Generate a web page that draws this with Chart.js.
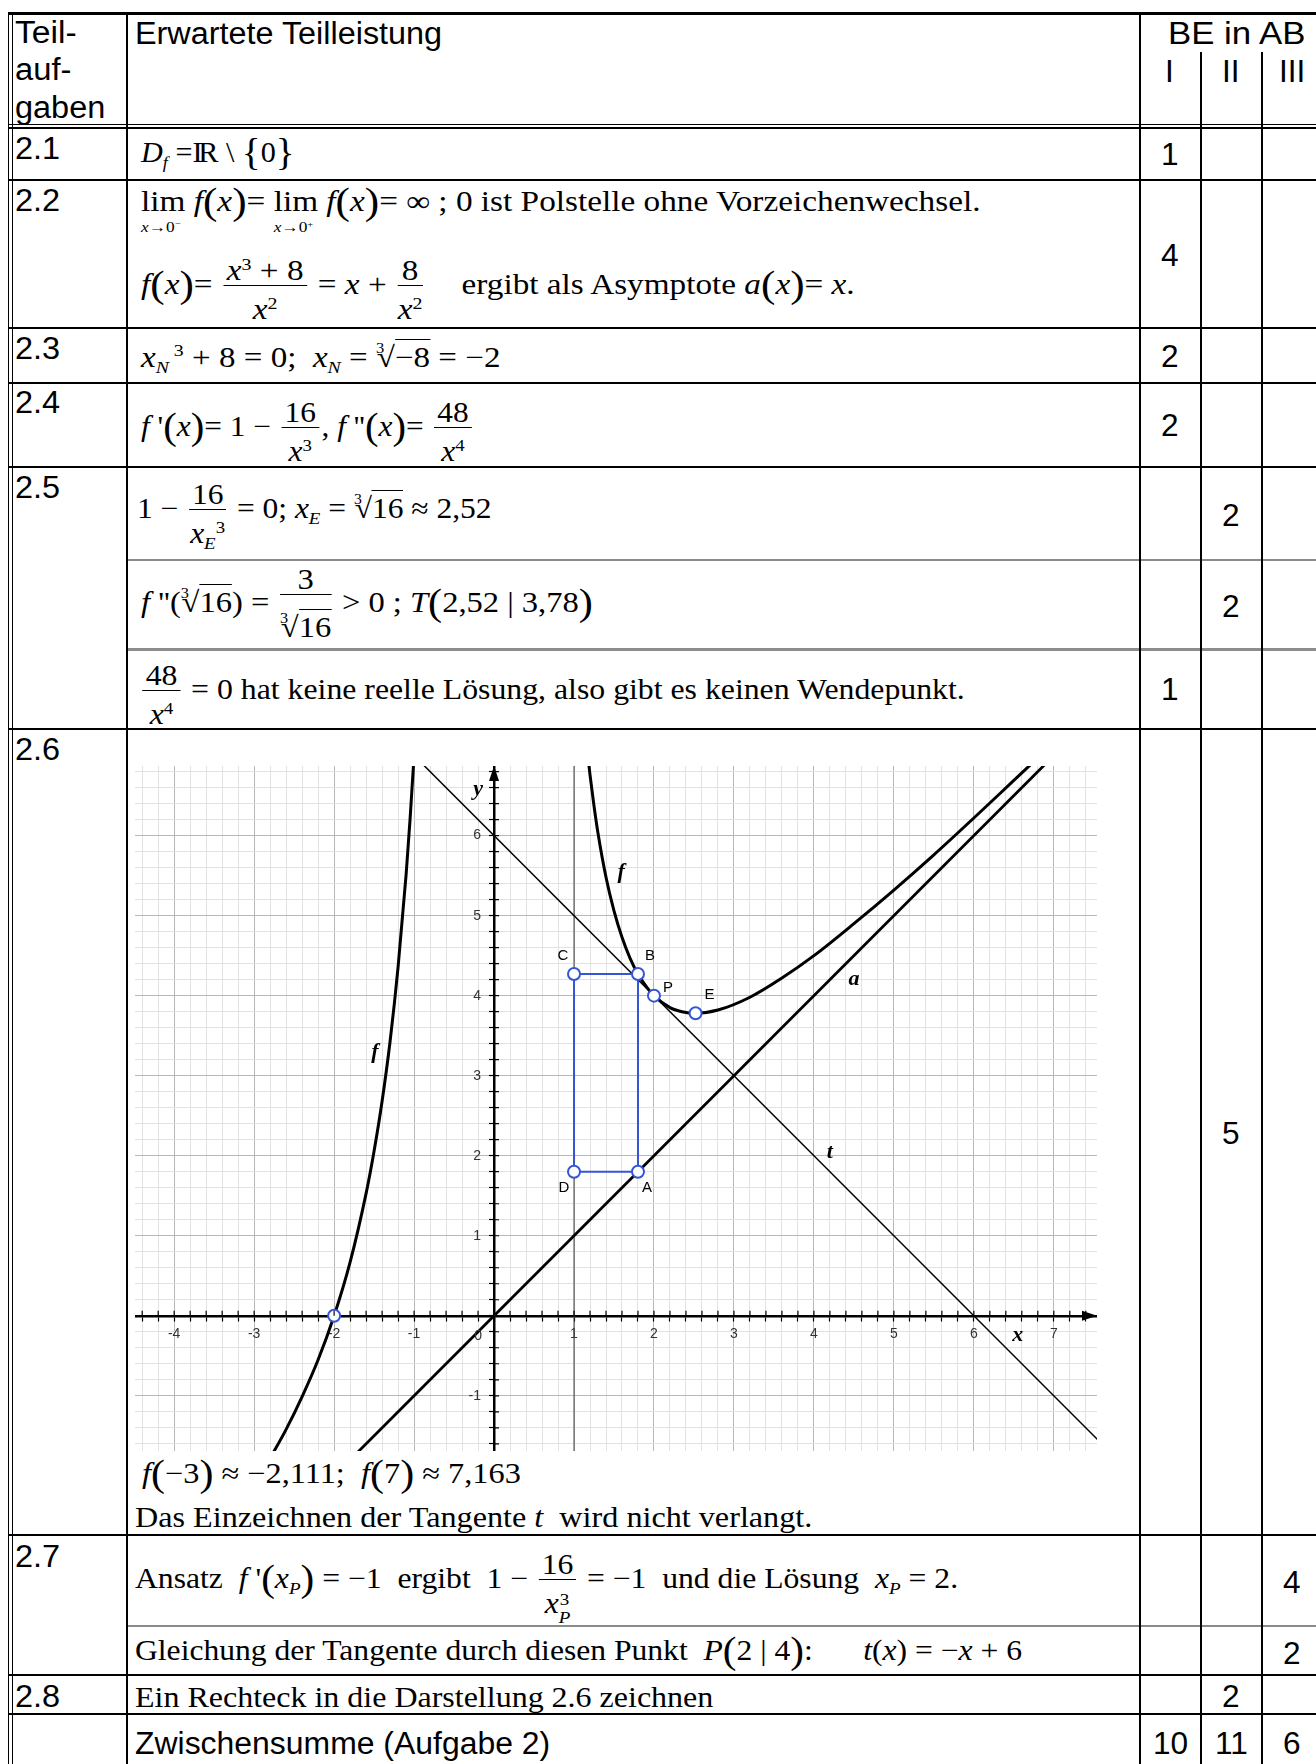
<!DOCTYPE html>
<html lang="de">
<head>
<meta charset="UTF-8">
<title>Erwartete Teilleistung - Aufgabe 2</title>
<script src="https://cdn.jsdelivr.net/npm/chart.js"></script>
<style>
  html, body { margin: 0; padding: 0; background: #fff; }
  #page { position: relative; width: 1316px; height: 1764px; overflow: hidden; }
  .ln { position: absolute; }
  .tx { position: absolute; white-space: nowrap; line-height: 1; transform-origin: 0 0; color: #000; }
  .serif { font-family: "Liberation Serif", "Times New Roman", serif; font-size: 29px; }
  .sans { font-family: "Liberation Sans", Arial, sans-serif; font-size: 31px; }
  sup, sub { font-size: .6em; line-height: 0; }
  sup { vertical-align: .6em; }
  sub { vertical-align: -.35em; }
  .fr { display: inline-block; vertical-align: -.86em; text-align: center; margin: 0 .08em; }
  .fr > .n { display: block; line-height: .9em; padding: 0 .1em 2px; border-bottom: 1.4px solid #000; }
  .fr > .d { display: block; line-height: 1.62em; }
  .bp { font-size: 1.3em; vertical-align: -.07em; }
  .lim { display: inline-block; position: relative; }
  .lim > .ls { position: absolute; left: 0; top: 2.15em; font-size: .52em; }
  .ri { font-size: .5em; vertical-align: .95em; margin-right: -.45em; }
  .ov { border-top: 1.4px solid #000; padding-top: 1px; }
  .ss { display: inline-block; vertical-align: -.55em; font-size: .6em; line-height: 1; }
  .ss > span { display: block; }
  #chartBox { position: absolute; left: 135px; top: 766px; width: 962px; height: 685px; }
</style>
</head>
<body>
<div id="page">
  <div id="chartBox"><canvas id="graph"></canvas></div>
</div>

<script type="text/javascript">
    // --- graph data ---
    const fLeftX = [-2.8, -2.6, -2.4, -2.2, -2.0, -1.8, -1.6, -1.5, -1.4, -1.3, -1.2, -1.1, -1.05, -1.0, -0.97];
    const fLeftY = [-1.78, -1.42, -1.01, -0.55, 0.0, 0.67, 1.53, 2.06, 2.68, 3.43, 4.36, 5.51, 6.21, 7.0, 7.53];
    const fRightX = [1.1, 1.15, 1.2, 1.25, 1.3, 1.4, 1.5, 1.6, 1.7, 1.8, 1.9, 2.0, 2.2, 2.35, 2.52, 2.8, 3.2, 3.6, 4.0, 4.5, 5.0, 5.5, 6.0, 6.5, 7.0];
    const fRightY = [7.71, 7.2, 6.76, 6.37, 6.03, 5.48, 5.06, 4.73, 4.47, 4.27, 4.12, 4.0, 3.85, 3.8, 3.78, 3.82, 3.98, 4.22, 4.5, 4.9, 5.32, 5.76, 6.22, 6.69, 7.16];
    const asymX = [-2, 7.6];
    const asymY = [-2, 7.6];
    const tangX = [-1, 7.6];
    const tangY = [7, -1.6];
    const vertX = [1, 1];
    const vertY = [-1.7, 6.9];
    const rectX = [1.8, 1.8, 1, 1, 1.8];
    const rectY = [1.8, 4.27, 4.27, 1.8, 1.8];
    const markX = [1.8, 1.8, 1, 1, 2, 2.52, -2];
    const markY = [1.8, 4.27, 4.27, 1.8, 4, 3.78, 0];
    const markNames = ['A', 'B', 'C', 'D', 'P', 'E', ''];
    const curveNames = ['f', 'f', 'a', 't', 'y', 'x'];
    const curveNameX = [1.59, -1.49, 4.5, 4.2, -0.2, 6.55];
    const curveNameY = [5.54, 3.29, 4.2, 2.04, 6.58, -0.24];

    // --- table content ---
    const rowLabels = ['2.1', '2.2', '2.3', '2.4', '2.5', '2.6', '2.7', '2.8'];
    const beColumns = ['I', 'II', 'III'];
    const sums = ['10', '11', '6'];

    const page = document.getElementById('page');
    const BLUE = '#3555d6';

    function hline(x1, x2, y, h, c) {
        const d = document.createElement('div');
        d.className = 'ln';
        d.style.cssText = `left:${x1}px;top:${y - h / 2}px;width:${x2 - x1}px;height:${h}px;background:${c || '#000'}`;
        page.appendChild(d);
    }
    function vline(x, y1, y2, w, c) {
        const d = document.createElement('div');
        d.className = 'ln';
        d.style.cssText = `left:${x - w / 2}px;top:${y1}px;width:${w}px;height:${y2 - y1}px;background:${c || '#000'}`;
        page.appendChild(d);
    }
    // text placed by its baseline; width w stretches it like the scan
    function put(cls, html, x, base, w, center) {
        const el = document.createElement('div');
        el.className = 'tx ' + cls;
        el.innerHTML = '<span style="display:inline-block;width:0;height:0"></span>' + html;
        page.appendChild(el);
        const nat = el.offsetWidth;
        const sx = w ? w / nat : 1.02;
        el.style.top = (base - el.firstChild.offsetTop) + 'px';
        el.style.left = (center ? x - nat * sx / 2 : x) + 'px';
        el.style.transform = 'scaleX(' + sx + ')';
    }
    const frac = (n, d) => `<span class="fr"><span class="n">${n}</span><span class="d">${d}</span></span>`;
    const root = (i, r) => `<span class="ri">${i}</span>√<span class="ov">${r}</span>`;
    const P = s => `<span class="bp">(</span>${s}<span class="bp">)</span>`;
    const lim = s => `<span class="lim">lim<span class="ls">${s}</span></span>`;

    // --- grid lines of the table ---
    hline(8, 1316, 13, 3);
    hline(8, 1316, 124.5, 1.3);
    hline(8, 1316, 128, 1.3);
    [180, 328, 383, 467, 729, 1535, 1675, 1714].forEach(y => hline(8, 1316, y, 2));
    hline(127, 1316, 560, 1.6, '#8a8a8a');
    hline(127, 1316, 649, 3, '#8d8d8d');
    hline(127, 1316, 1626, 1.6, '#8a8a8a');
    vline(8.5, 12, 1764, 1.5);
    vline(12.5, 12, 1764, 1.5);
    vline(127, 12, 1764, 2);
    vline(1140, 12, 1764, 2);
    vline(1201, 52, 1764, 2);
    vline(1262, 52, 1764, 2);

    // --- header ---
    put('sans', 'Teil-', 15, 43, 62);
    put('sans', 'auf-', 15, 80, 56);
    put('sans', 'gaben', 15, 118, 90);
    put('sans', 'Erwartete Teilleistung', 135, 44, 307);
    put('sans', 'BE in AB', 1168, 44, 137);
    const colCenter = [1170, 1231, 1292];
    beColumns.forEach((t, i) => put('sans', t, colCenter[i], 82, null, true));

    // --- row labels ---
    const labelBase = [159, 211, 359, 413, 498, 760, 1567, 1707];
    rowLabels.forEach((t, i) => put('sans', t, 15, labelBase[i], 45));

    // --- BE points ---
    const beText = ['1', '4', '2', '2', '2', '2', '1', '5', '4', '2', '2'];
    const beCol  = [0, 0, 0, 0, 1, 1, 0, 1, 2, 2, 1];
    const beBase = [165, 266, 367, 436, 526, 617, 700, 1144, 1593, 1664, 1707];
    beText.forEach((t, i) => put('sans', t, colCenter[beCol[i]], beBase[i], null, true));
    sums.forEach((t, i) => put('sans', t, colCenter[i], 1754, null, true));
    put('sans', 'Zwischensumme (Aufgabe 2)', 135, 1754, 415);

    // --- formulas ---
    const xs3 = `<i>x</i><sup>3</sup>`;
    put('serif', `<i>D</i><sub><i>f</i></sub>&nbsp;=I<span style="margin-left:-.14em">R</span> \\ <span class="bp">{</span>0<span class="bp">}</span>`, 141, 162, 154);
    put('serif', `${lim('<i>x</i>→0<sup>−</sup>')} <i>f</i>${P('<i>x</i>')}= ${lim('<i>x</i>→0<sup>+</sup>')} <i>f</i>${P('<i>x</i>')}= ∞ ; 0 ist Polstelle ohne Vorzeichenwechsel.`, 141, 211, 840);
    put('serif', `<i>f</i>${P('<i>x</i>')}= ${frac('<i>x</i><sup>3</sup> + 8', '<i>x</i><sup>2</sup>')} = <i>x</i> + ${frac('8', '<i>x</i><sup>2</sup>')}<span style="display:inline-block;width:1.1em"></span>ergibt als Asymptote <i>a</i>${P('<i>x</i>')}= <i>x</i>.`, 141, 294, 714);
    put('serif', `<i>x<sub>N</sub></i><sup>&nbsp;3</sup> + 8 = 0;&nbsp; <i>x<sub>N</sub></i> = ${root('3', '−8')} = −2`, 141, 367, 359);
    put('serif', `<i>f</i> '${P('<i>x</i>')}= 1 − ${frac('16', xs3)}, <i>f</i> ''${P('<i>x</i>')}= ${frac('48', '<i>x</i><sup>4</sup>')}`, 141, 436, 333);
    put('serif', `1 − ${frac('16', '<i>x<sub>E</sub></i><sup>3</sup>')} = 0; <i>x<sub>E</sub></i> = ${root('3', '16')} ≈ 2,52`, 137, 518, 355);
    put('serif', `<i>f</i> ''(${root('3', '16')}) = ${frac('3', root('3', '16'))} &gt; 0 ; <i>T</i>${P('2,52 | 3,78')}`, 141, 612, 452);
    put('serif', `${frac('48', '<i>x</i><sup>4</sup>')} = 0 hat keine reelle Lösung, also gibt es keinen Wendepunkt.`, 140, 699, 825);
    put('serif', `<i>f</i>${P('−3')} ≈ −2,111;&nbsp; <i>f</i>${P('7')} ≈ 7,163`, 142, 1483, 379);
    put('serif', `Das Einzeichnen der Tangente <i>t</i>&nbsp; wird nicht verlangt.`, 135, 1527, 677);
    put('serif', `Ansatz&nbsp; <i>f</i> '${P('<i>x<sub>P</sub></i>')} = −1&nbsp; ergibt&nbsp; 1 − ${frac('16', '<i>x</i><span class="ss"><span>3</span><span><i>P</i></span></span>')} = −1&nbsp; und die Lösung&nbsp; <i>x<sub>P</sub></i> = 2.`, 135, 1588, 823);
    put('serif', `Gleichung der Tangente durch diesen Punkt&nbsp; <i>P</i>${P('2 | 4')}:<span style="display:inline-block;width:1.6em"></span><i>t</i>(<i>x</i>) = −<i>x</i> + 6`, 135, 1660, 887);
    put('serif', `Ein Rechteck in die Darstellung 2.6 zeichnen`, 135, 1707, 578);

    // --- the graph ---
    const pts = (xa, ya) => xa.map((x, i) => ({ x: x, y: ya[i] }));
    const isInt = v => Math.abs(v - Math.round(v)) < 1e-6;
    const gridColor = ctx => isInt(ctx.tick.value) ? '#b8b8b8' : '#e2e2e2';
    const TICK_FONT = '14px "Liberation Sans Narrow", "Liberation Sans"';
    const noPad = scale => { scale.paddingTop = 0; scale.paddingBottom = 0; scale.paddingLeft = 0; scale.paddingRight = 0; };

    const axisDecor = {
        id: 'axisDecor',
        afterDraw(chart) {
            const c = chart.ctx, ca = chart.chartArea;
            const sx = chart.scales.x, sy = chart.scales.y;
            const ox = sx.getPixelForValue(0), oy = sy.getPixelForValue(0);
            c.save();
            // tick marks on the other side of each axis
            c.strokeStyle = '#000'; c.lineWidth = 1.2;
            c.beginPath();
            sx.ticks.forEach(t => { const p = sx.getPixelForValue(t.value); c.moveTo(p, oy - 5); c.lineTo(p, oy); });
            sy.ticks.forEach(t => { const p = sy.getPixelForValue(t.value); c.moveTo(ox, p); c.lineTo(ox + 5, p); });
            c.stroke();
            c.fillStyle = '#000';
            c.beginPath();
            c.moveTo(ox, ca.top); c.lineTo(ox - 5, ca.top + 15); c.lineTo(ox + 5, ca.top + 15);
            c.closePath(); c.fill();
            c.beginPath();
            c.moveTo(ca.right, oy); c.lineTo(ca.right - 15, oy - 5); c.lineTo(ca.right - 15, oy + 5);
            c.closePath(); c.fill();
            // y tick labels left of the axis, and the origin label
            c.font = TICK_FONT;
            c.fillStyle = '#333';
            c.textAlign = 'right'; c.textBaseline = 'middle';
            sy.ticks.forEach(t => {
                if (isInt(t.value) && Math.round(t.value) !== 0) c.fillText(String(Math.round(t.value)), ox - 13, sy.getPixelForValue(t.value));
            });
            c.textAlign = 'center';
            c.fillText('0', sx.getPixelForValue(-0.2), sy.getPixelForValue(-0.25));
            // curve and axis names
            c.font = 'italic bold 22px "Liberation Serif"';
            c.fillStyle = '#000';
            curveNames.forEach((t, i) => c.fillText(t, sx.getPixelForValue(curveNameX[i]), sy.getPixelForValue(curveNameY[i])));
            // point names
            c.font = '15px "Liberation Sans"';
            const off = { A: [9, 16], B: [12, -18], C: [-11, -18], D: [-10, 16], P: [14, -8], E: [14, -18] };
            markNames.forEach((t, i) => {
                if (!t) return;
                c.fillText(t, sx.getPixelForValue(markX[i]) + off[t][0], sy.getPixelForValue(markY[i]) + off[t][1]);
            });
            c.restore();
        }
    };

    const line = (xa, ya, color, width, extra) => Object.assign({
        data: pts(xa, ya), showLine: true, borderColor: color, borderWidth: width,
        pointRadius: 0, pointHoverRadius: 0, fill: false
    }, extra || {});

    new Chart(document.getElementById('graph'), {
        type: 'scatter',
        data: {
            datasets: [
                { data: pts(markX, markY), showLine: false, pointRadius: 6, pointBorderWidth: 2,
                  pointBorderColor: BLUE, pointBackgroundColor: '#fff' },
                line(rectX, rectY, BLUE, 2),
                line(fRightX, fRightY, '#000', 3, { cubicInterpolationMode: 'monotone' }),
                line(fLeftX, fLeftY, '#000', 3, { cubicInterpolationMode: 'monotone' }),
                line(asymX, asymY, '#000', 2.8),
                line(tangX, tangY, '#000', 1.5),
                line(vertX, vertY, '#444', 1)
            ]
        },
        options: {
            responsive: true,
            maintainAspectRatio: false,
            devicePixelRatio: 1,
            animation: false,
            layout: { padding: 0, autoPadding: false },
            plugins: { legend: { display: false }, tooltip: { enabled: false } },
            scales: {
                x: {
                    type: 'linear', min: -4.49, max: 7.54, position: { y: 0 },
                    afterFit: noPad,
                    ticks: { stepSize: 0.2, includeBounds: false, autoSkip: false, maxRotation: 0, padding: 6,
                             color: '#333', font: { family: '"Liberation Sans Narrow", "Liberation Sans"', size: 14 },
                             callback: v => isInt(v) && Math.round(v) !== 0 ? String(Math.round(v)) : '' },
                    grid: { color: gridColor, tickLength: 4, tickColor: '#000', tickWidth: 1.2 },
                    border: { color: '#000', width: 2.5 }
                },
                y: {
                    type: 'linear', min: -1.69, max: 6.87, position: { x: 0 },
                    afterFit: noPad,
                    ticks: { stepSize: 0.2, includeBounds: false, autoSkip: false, display: false },
                    grid: { color: gridColor, tickLength: 4, tickColor: '#000', tickWidth: 1.2 },
                    border: { color: '#000', width: 2.5 }
                }
            }
        },
        plugins: [axisDecor]
    });
</script>
</body>
</html>
